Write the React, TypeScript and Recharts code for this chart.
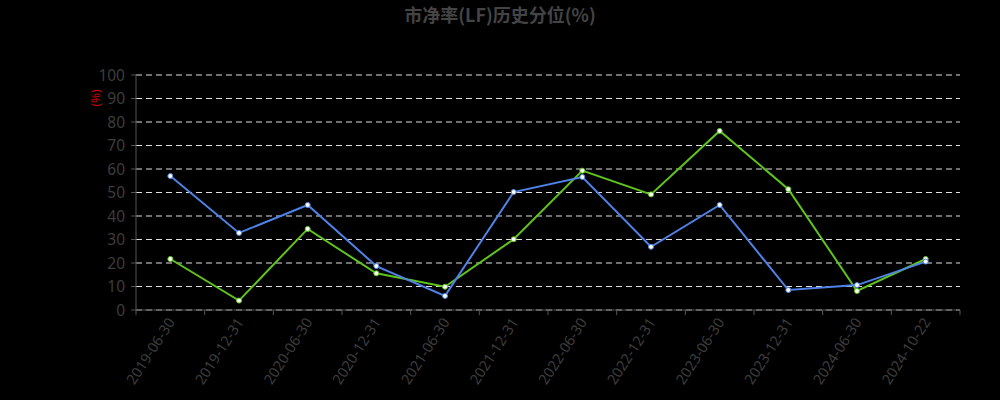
import React from 'react';
import { LineChart, Line, XAxis, YAxis, CartesianGrid } from 'recharts';

const categories = ['2019-06-30', '2019-12-31', '2020-06-30', '2020-12-31', '2021-06-30', '2021-12-31', '2022-06-30', '2022-12-31', '2023-06-30', '2023-12-31', '2024-06-30', '2024-10-22'];
const blueValues = [57.0, 32.8, 44.7, 18.7, 6.0, 50.2, 56.6, 26.9, 44.7, 8.5, 10.6, 20.6];
const greenValues = [21.7, 4.0, 34.5, 15.6, 9.9, 30.1, 59.3, 49.2, 76.2, 51.4, 8.1, 21.7];
const yTicks = [0, 10, 20, 30, 40, 50, 60, 70, 80, 90, 100];
const title = '市净率(LF)历史分位(%)';
const unitLabel = '(%)';

const data = categories.map((c, i) => ({ idx: i, name: c, blue: blueValues[i], green: greenValues[i] }));
const xTicks: number[] = [];
for (let i = 0; i <= categories.length; i++) {
  xTicks.push(i - 0.5);
  if (i < categories.length) xTicks.push(i);
}

const FONT = '"Noto Sans", "Open Sans", sans-serif';

const XTick = (props: any) => {
  const { x, y, payload } = props;
  const v = payload.value as number;
  if (Number.isInteger(v)) {
    return (
      <text
        x={x + 2}
        y={y + 10}
        textAnchor="end"
        dominantBaseline="middle"
        transform={`rotate(-57, ${x + 2}, ${y + 10})`}
        fill="#3d3d3d"
        fontSize={14.5}
        fontFamily={FONT}
      >
        {categories[v]}
      </text>
    );
  }
  return <line x1={x} x2={x} y1={y} y2={y + 5} stroke="#555" strokeWidth={1} />;
};

const UnitLabel = (props: any) => {
  const { viewBox } = props;
  const cx = viewBox.x + 1;
  const cy = viewBox.y + 23;
  return (
    <text
      x={cx}
      y={cy}
      textAnchor="middle"
      dominantBaseline="middle"
      transform={`rotate(-90, ${cx}, ${cy})`}
      fill="#cc0000"
      fontSize={12}
      fontFamily={FONT}
    >
      {unitLabel}
    </text>
  );
};

export default function App() {
  return (
    <div style={{ position: 'absolute', left: 0, top: 0, width: 1000, height: 400, background: '#000' }}>
      <div
        style={{
          position: 'absolute',
          left: 0,
          top: 2,
          width: 1000,
          textAlign: 'center',
          color: '#444',
          fontWeight: 'bold',
          fontSize: 18,
          lineHeight: '24px',
          fontFamily: '"Noto Sans CJK SC", sans-serif',
        }}
      >
        {title}
      </div>
      <LineChart width={1000} height={400} data={data} margin={{ top: 75, right: 40, bottom: 10, left: 96 }}>
        <CartesianGrid vertical={false} stroke="#e0e0e0" strokeDasharray="6 4" />
        <XAxis
          dataKey="idx"
          type="number"
          domain={[-0.5, categories.length - 0.5]}
          ticks={xTicks}
          interval={0}
          height={80}
          tickSize={0}
          tickMargin={0}
          tickLine={false}
          axisLine={{ stroke: '#555' }}
          tick={<XTick />}
        />
        <YAxis
          width={40}
          domain={[0, 100]}
          ticks={yTicks}
          interval={0}
          tickSize={5}
          tickMargin={6}
          tickLine={{ stroke: '#555' }}
          axisLine={{ stroke: '#555' }}
          tick={{ fill: '#3d3d3d', fontSize: 15.5, fontFamily: FONT }}
          label={<UnitLabel />}
        />
        <Line
          type="linear"
          dataKey="green"
          stroke="#5ec41e"
          strokeWidth={2}
          dot={{ r: 2.5, fill: '#fff', stroke: '#5ec41e', strokeWidth: 1 }}
          isAnimationActive={false}
        />
        <Line
          type="linear"
          dataKey="blue"
          stroke="#4f82e6"
          strokeWidth={2}
          dot={{ r: 2.5, fill: '#fff', stroke: '#4f82e6', strokeWidth: 1 }}
          isAnimationActive={false}
        />
      </LineChart>
    </div>
  );
}
